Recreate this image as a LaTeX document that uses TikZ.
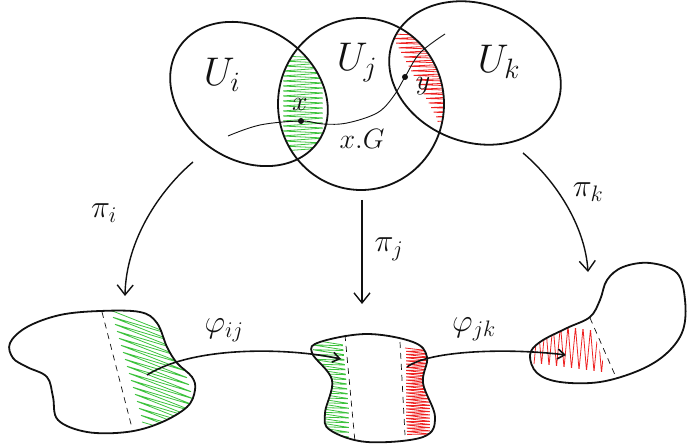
\RequirePackage{fix-cm}
\documentclass[tikz,border=0pt]{standalone}
\usepackage{tikz}
\usepackage{amsmath}
\usetikzlibrary{arrows.meta, positioning}
\definecolor{ink}{HTML}{111111}
\definecolor{scribg}{HTML}{3CC23C}
\definecolor{scribr}{HTML}{EE2222}
\tikzset{
  >={Straight Barb[length=10pt, width=16pt, line width=1.4pt]},
  %
  outline/.style={draw=ink, line width=1.8pt},
  trail/.style={draw=ink, line width=0.9pt},
  cut/.style={draw=ink, line width=0.7pt, dash pattern=on 6pt off 5pt},
  %
  proj/.style={draw=ink, line width=1.4pt, ->},
  chart/.style={draw=ink, line width=1.6pt,
                -{Straight Barb[length=7pt, width=10pt, line width=1.6pt]}},
  %
  hatchg/.style={draw=scribg, line width=0.8pt, rounded corners=1.5pt},
  hatchr/.style={draw=scribr, line width=0.8pt, rounded corners=1.5pt},
  %
  setlbl/.style={font=\fontsize{40}{44}\selectfont, text=ink, inner sep=0pt},
  maplbl/.style={font=\fontsize{32}{36}\selectfont, text=ink, inner sep=0pt},
  ptlbl/.style={font=\fontsize{28}{32}\selectfont, text=ink, inner sep=0pt},
  ptdot/.style={circle, fill=ink, inner sep=0pt, minimum size=6pt},
}

\begin{document}
\begin{tikzpicture}[x=1pt, y=-1pt]
  \useasboundingbox (0,0) rectangle (687,446);

  % the three open sets
  \coordinate (ui) at (249,94);
  \coordinate (uj) at (361,104);
  \coordinate (uk) at (475,73);

  \begin{scope}
    \clip[rotate around={-34:(ui)}] (ui) ellipse [x radius=84, y radius=66];
    \clip (uj) ellipse [x radius=83, y radius=86];
    \draw[hatchg] (282,56) \foreach \k in {1,...,19} { -- ++(42,2) -- ++(-42,3) };
  \end{scope}
  \begin{scope}
    \clip (uj) ellipse [x radius=83, y radius=86];
    \clip[rotate around={-21:(uk)}] (uk) ellipse [x radius=88, y radius=69];
    \draw[hatchr] (390,34) \foreach \k in {1,...,19} { -- ++(56,2) -- ++(-53.5,2.6) };
  \end{scope}

  \draw[outline, rotate around={-34:(ui)}] (ui) ellipse [x radius=84, y radius=66];
  \draw[outline] (uj) ellipse [x radius=83, y radius=86];
  \draw[outline, rotate around={-21:(uk)}] (uk) ellipse [x radius=88, y radius=69];

  \draw[trail] plot[smooth, tension=0.6] coordinates
    {(228,136) (260,125) (301,121) (323,124) (347,123) (377,113) (393,97) (405,77) (420,53) (445,34)};
  \node[ptdot] (px) at (301,121) {};
  \node[ptdot] (py) at (405,77) {};

  \node[setlbl] (lui) at (222,75) {$U_i$};
  \node[setlbl] (luj) at (357,63) {$U_j$};
  \node[setlbl] (luk) at (499,62) {$U_k$};
  \node[ptlbl] (lx) at (300,104) {$x$};
  \node[ptlbl] (ly) at (423,86) {$y$};
  \node[ptlbl] (lxg) at (362,139) {$x.G$};

  % projections
  \coordinate (pi-s) at (193,162);
  \coordinate (pi-e) at (125,296);
  \coordinate (pj-s) at (362,200);
  \coordinate (pj-e) at (362,304);
  \coordinate (pk-s) at (523,153);
  \coordinate (pk-e) at (588,272);
  \draw[proj] (pi-s) .. controls (160,190) and (126,240) .. (pi-e);
  \draw[proj] (pj-s) -- (pj-e);
  \draw[proj] (pk-s) .. controls (555,180) and (585,225) .. (pk-e);
  \node[maplbl] (lpi) at (104,213) {$\pi_i$};
  \node[maplbl] (lpj) at (389,249) {$\pi_j$};
  \node[maplbl] (lpk) at (588,192) {$\pi_k$};

  % quotient pieces
  \begin{scope}
    \clip plot[smooth cycle, tension=0.6] coordinates
      {(10,343) (27,327) (60,315) (100,311) (140,312) (157,323) (167,347) (177,363)
       (192,377) (195,390) (187,407) (160,423) (127,432) (87,432) (58,420) (53,397)
       (47,377) (27,367) (13,358)};
    \clip (106,300) -- (139,440) -- (215,440) -- (215,300) -- cycle;
    \draw[hatchg] (110,310) \foreach \k in {1,...,16} { -- ++(66,26) -- ++(-64,-19) };
  \end{scope}
  \draw[outline] plot[smooth cycle, tension=0.6] coordinates
    {(10,343) (27,327) (60,315) (100,311) (140,312) (157,323) (167,347) (177,363)
     (192,377) (195,390) (187,407) (160,423) (127,432) (87,432) (58,420) (53,397)
     (47,377) (27,367) (13,358)};
  \draw[cut] (102,312) -- (132,428);

  \begin{scope}
    \clip plot[smooth cycle, tension=0.6] coordinates
      {(312,353) (320,342) (367,334) (413,342) (427,357) (423,383) (435,417)
       (423,437) (367,442) (330,430) (325,413) (332,380)};
    \clip (341,325) -- (353,450) -- (300,450) -- (300,325) -- cycle;
    \draw[hatchg] (312,340) \foreach \k in {1,...,21} { -- ++(38,6) -- ++(-38,-1.2) };
  \end{scope}
  \begin{scope}
    \clip plot[smooth cycle, tension=0.6] coordinates
      {(312,353) (320,342) (367,334) (413,342) (427,357) (423,383) (435,417)
       (423,437) (367,442) (330,430) (325,413) (332,380)};
    \clip (401,330) -- (408,450) -- (445,450) -- (445,330) -- cycle;
    \draw[hatchr] (405,348) \foreach \k in {1,...,27} { -- ++(26,3) -- ++(-26,0.2) };
  \end{scope}
  \draw[outline] plot[smooth cycle, tension=0.6] coordinates
    {(312,353) (320,342) (367,334) (413,342) (427,357) (423,383) (435,417)
     (423,437) (367,442) (330,430) (325,413) (332,380)};
  \draw[cut] (345,335) -- (355,442);
  \draw[cut] (400,342) -- (405,435);

  \begin{scope}
    \clip plot[smooth cycle, tension=0.6] coordinates
      {(530,355) (540,342) (567,328) (590,317) (600,300) (607,280) (623,267)
       (650,263) (677,273) (685,300) (683,330) (667,353) (640,370) (600,382)
       (560,382) (537,373)};
    \clip (585,305) -- (612,390) -- (520,390) -- (520,305) -- cycle;
    \draw[hatchr] (534,364) \foreach \k in {1,...,10} { -- ++(4,-42) -- ++(3.5,43) };
  \end{scope}
  \draw[outline] plot[smooth cycle, tension=0.6] coordinates
    {(530,355) (540,342) (567,328) (590,317) (600,300) (607,280) (623,267)
     (650,263) (677,273) (685,300) (683,330) (667,353) (640,370) (600,382)
     (560,382) (537,373)};
  \draw[cut] (590,318) -- (615,375);

  % transition maps
  \coordinate (fij-s) at (147,375);
  \coordinate (fij-e) at (341,359);
  \coordinate (fjk-s) at (407,367);
  \coordinate (fjk-e) at (566,355);
  \draw[chart] (fij-s) .. controls (195,345) and (290,348) .. (fij-e);
  \draw[chart] (fjk-s) .. controls (430,350) and (510,348) .. (fjk-e);
  \node[maplbl] (lfij) at (224,330) {$\varphi_{ij}$};
  \node[maplbl] (lfjk) at (474,329) {$\varphi_{jk}$};

\end{tikzpicture}
\end{document}
